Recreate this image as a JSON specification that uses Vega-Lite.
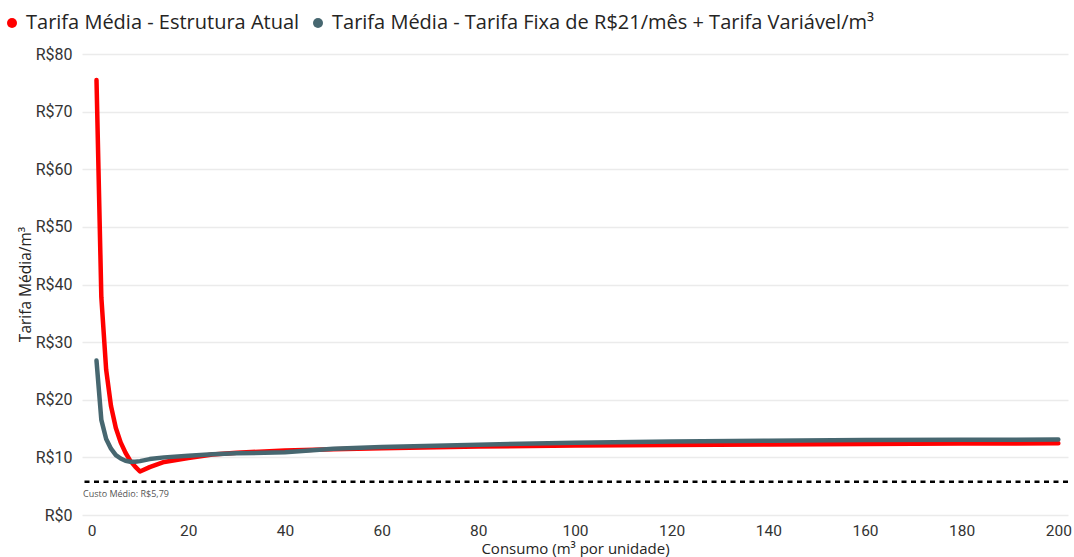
{
  "$schema": "https://vega.github.io/schema/vega-lite/v6.json",
  "width": 986,
  "height": 461,
  "autosize": {"type": "none"},
  "padding": {"left": 82, "top": 54, "right": 6, "bottom": 42},
  "background": "white",
  "config": {
    "view": {"stroke": null},
    "font": "Open Sans"
  },
  "datasets": {
    "series": [
      {"consumo": 1, "tarifa": 75.5, "serie": "Tarifa Média - Estrutura Atual"},
      {"consumo": 2, "tarifa": 37.8, "serie": "Tarifa Média - Estrutura Atual"},
      {"consumo": 3, "tarifa": 25.2, "serie": "Tarifa Média - Estrutura Atual"},
      {"consumo": 4, "tarifa": 18.9, "serie": "Tarifa Média - Estrutura Atual"},
      {"consumo": 5, "tarifa": 15.1, "serie": "Tarifa Média - Estrutura Atual"},
      {"consumo": 6, "tarifa": 12.6, "serie": "Tarifa Média - Estrutura Atual"},
      {"consumo": 7, "tarifa": 10.8, "serie": "Tarifa Média - Estrutura Atual"},
      {"consumo": 8, "tarifa": 9.4, "serie": "Tarifa Média - Estrutura Atual"},
      {"consumo": 9, "tarifa": 8.4, "serie": "Tarifa Média - Estrutura Atual"},
      {"consumo": 10, "tarifa": 7.55, "serie": "Tarifa Média - Estrutura Atual"},
      {"consumo": 12, "tarifa": 8.3, "serie": "Tarifa Média - Estrutura Atual"},
      {"consumo": 15, "tarifa": 9.2, "serie": "Tarifa Média - Estrutura Atual"},
      {"consumo": 20, "tarifa": 9.9, "serie": "Tarifa Média - Estrutura Atual"},
      {"consumo": 25, "tarifa": 10.5, "serie": "Tarifa Média - Estrutura Atual"},
      {"consumo": 30, "tarifa": 10.8, "serie": "Tarifa Média - Estrutura Atual"},
      {"consumo": 40, "tarifa": 11.2, "serie": "Tarifa Média - Estrutura Atual"},
      {"consumo": 50, "tarifa": 11.4, "serie": "Tarifa Média - Estrutura Atual"},
      {"consumo": 60, "tarifa": 11.6, "serie": "Tarifa Média - Estrutura Atual"},
      {"consumo": 80, "tarifa": 11.9, "serie": "Tarifa Média - Estrutura Atual"},
      {"consumo": 100, "tarifa": 12.05, "serie": "Tarifa Média - Estrutura Atual"},
      {"consumo": 120, "tarifa": 12.15, "serie": "Tarifa Média - Estrutura Atual"},
      {"consumo": 140, "tarifa": 12.25, "serie": "Tarifa Média - Estrutura Atual"},
      {"consumo": 160, "tarifa": 12.3, "serie": "Tarifa Média - Estrutura Atual"},
      {"consumo": 180, "tarifa": 12.4, "serie": "Tarifa Média - Estrutura Atual"},
      {"consumo": 200, "tarifa": 12.45, "serie": "Tarifa Média - Estrutura Atual"},
      {"consumo": 1, "tarifa": 26.8, "serie": "Tarifa Média - Tarifa Fixa de R$21/mês + Tarifa Variável/m³"},
      {"consumo": 2, "tarifa": 16.5, "serie": "Tarifa Média - Tarifa Fixa de R$21/mês + Tarifa Variável/m³"},
      {"consumo": 3, "tarifa": 13.2, "serie": "Tarifa Média - Tarifa Fixa de R$21/mês + Tarifa Variável/m³"},
      {"consumo": 4, "tarifa": 11.5, "serie": "Tarifa Média - Tarifa Fixa de R$21/mês + Tarifa Variável/m³"},
      {"consumo": 5, "tarifa": 10.4, "serie": "Tarifa Média - Tarifa Fixa de R$21/mês + Tarifa Variável/m³"},
      {"consumo": 6, "tarifa": 9.8, "serie": "Tarifa Média - Tarifa Fixa de R$21/mês + Tarifa Variável/m³"},
      {"consumo": 7, "tarifa": 9.4, "serie": "Tarifa Média - Tarifa Fixa de R$21/mês + Tarifa Variável/m³"},
      {"consumo": 8, "tarifa": 9.25, "serie": "Tarifa Média - Tarifa Fixa de R$21/mês + Tarifa Variável/m³"},
      {"consumo": 9, "tarifa": 9.25, "serie": "Tarifa Média - Tarifa Fixa de R$21/mês + Tarifa Variável/m³"},
      {"consumo": 10, "tarifa": 9.35, "serie": "Tarifa Média - Tarifa Fixa de R$21/mês + Tarifa Variável/m³"},
      {"consumo": 12, "tarifa": 9.7, "serie": "Tarifa Média - Tarifa Fixa de R$21/mês + Tarifa Variável/m³"},
      {"consumo": 15, "tarifa": 10.0, "serie": "Tarifa Média - Tarifa Fixa de R$21/mês + Tarifa Variável/m³"},
      {"consumo": 20, "tarifa": 10.3, "serie": "Tarifa Média - Tarifa Fixa de R$21/mês + Tarifa Variável/m³"},
      {"consumo": 25, "tarifa": 10.55, "serie": "Tarifa Média - Tarifa Fixa de R$21/mês + Tarifa Variável/m³"},
      {"consumo": 30, "tarifa": 10.7, "serie": "Tarifa Média - Tarifa Fixa de R$21/mês + Tarifa Variável/m³"},
      {"consumo": 40, "tarifa": 10.9, "serie": "Tarifa Média - Tarifa Fixa de R$21/mês + Tarifa Variável/m³"},
      {"consumo": 50, "tarifa": 11.5, "serie": "Tarifa Média - Tarifa Fixa de R$21/mês + Tarifa Variável/m³"},
      {"consumo": 60, "tarifa": 11.8, "serie": "Tarifa Média - Tarifa Fixa de R$21/mês + Tarifa Variável/m³"},
      {"consumo": 80, "tarifa": 12.2, "serie": "Tarifa Média - Tarifa Fixa de R$21/mês + Tarifa Variável/m³"},
      {"consumo": 100, "tarifa": 12.55, "serie": "Tarifa Média - Tarifa Fixa de R$21/mês + Tarifa Variável/m³"},
      {"consumo": 120, "tarifa": 12.75, "serie": "Tarifa Média - Tarifa Fixa de R$21/mês + Tarifa Variável/m³"},
      {"consumo": 140, "tarifa": 12.9, "serie": "Tarifa Média - Tarifa Fixa de R$21/mês + Tarifa Variável/m³"},
      {"consumo": 160, "tarifa": 13.0, "serie": "Tarifa Média - Tarifa Fixa de R$21/mês + Tarifa Variável/m³"},
      {"consumo": 180, "tarifa": 13.05, "serie": "Tarifa Média - Tarifa Fixa de R$21/mês + Tarifa Variável/m³"},
      {"consumo": 200, "tarifa": 13.1, "serie": "Tarifa Média - Tarifa Fixa de R$21/mês + Tarifa Variável/m³"}
    ],
    "custo": [
      {"consumo": -2, "tarifa": 5.79, "rotulo": "Custo Médio: R$5,79"}
    ]
  },
  "layer": [
    {
      "data": {"name": "series"},
      "mark": {"type": "line", "strokeWidth": 4.5, "strokeCap": "round", "strokeJoin": "round"},
      "encoding": {
        "x": {
          "field": "consumo", "type": "quantitative",
          "scale": {"domain": [-2, 202], "nice": false, "zero": false},
          "axis": {
            "title": "Consumo (m³ por unidade)",
            "values": [0, 20, 40, 60, 80, 100, 120, 140, 160, 180, 200],
            "grid": false, "domain": false, "ticks": false,
            "labelFont": "Roboto", "labelFontSize": 15.5, "labelColor": "#333333", "labelPadding": 8,
            "labelFlush": false,
            "titleFont": "Open Sans", "titleFontSize": 15, "titleFontWeight": "normal", "titleColor": "#252423",
            "titlePadding": 3
          }
        },
        "y": {
          "field": "tarifa", "type": "quantitative",
          "scale": {"domain": [0, 80], "nice": false},
          "axis": {
            "title": "Tarifa Média/m³",
            "values": [0, 10, 20, 30, 40, 50, 60, 70, 80],
            "labelExpr": "'R$' + datum.value",
            "grid": true, "gridColor": "#ebebeb", "gridWidth": 1.5,
            "domain": false, "ticks": false,
            "labelFont": "Roboto", "labelFontSize": 16, "labelColor": "#333333", "labelPadding": 10,
            "titleFont": "Open Sans", "titleFontSize": 15.5, "titleFontWeight": "normal", "titleColor": "#252423",
            "titleX": -57, "titleY": 230, "titleBaseline": "middle", "titleAlign": "center"
          }
        },
        "color": {
          "field": "serie", "type": "nominal",
          "scale": {
            "domain": ["Tarifa Média - Estrutura Atual", "Tarifa Média - Tarifa Fixa de R$21/mês + Tarifa Variável/m³"],
            "range": ["#ff0000", "#476770"]
          },
          "legend": {
            "title": null,
            "orient": "none", "legendX": -80, "legendY": -41,
            "direction": "horizontal",
            "symbolType": "circle", "symbolSize": 100, "symbolStrokeWidth": 0, "symbolOpacity": 1,
            "labelFont": "Open Sans", "labelFontSize": 20, "labelColor": "#252423", "labelLimit": 700,
            "labelOffset": 4, "columnPadding": 8,
            "encode": {
              "symbols": {"update": {"fill": {"scale": "color", "field": "value"}, "strokeWidth": {"value": 0}}}
            }
          }
        }
      }
    },
    {
      "data": {"name": "custo"},
      "mark": {"type": "rule", "color": "#000000", "strokeWidth": 2.5, "strokeDash": [5, 4.5]},
      "encoding": {
        "y": {"field": "tarifa", "type": "quantitative"}
      }
    },
    {
      "data": {"name": "custo"},
      "mark": {"type": "text", "align": "left", "baseline": "middle", "dx": 1, "dy": 12, "fontSize": 9, "color": "#555555", "font": "Open Sans"},
      "encoding": {
        "x": {"field": "consumo", "type": "quantitative"},
        "y": {"field": "tarifa", "type": "quantitative"},
        "text": {"field": "rotulo"}
      }
    }
  ]
}
